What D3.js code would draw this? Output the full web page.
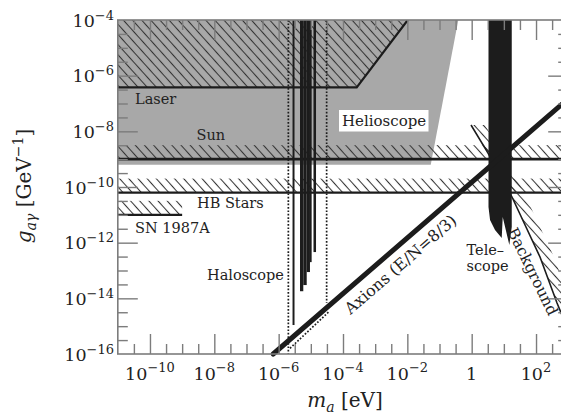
<!DOCTYPE html>
<html><head><meta charset="utf-8">
<script src="https://cdn.jsdelivr.net/npm/d3@7"></script>
<style>body{margin:0;background:#fff}svg{display:block}</style>
</head><body>
<svg id="c" width="561" height="419"></svg>
<script>
// ---------------- data ----------------
const xTickMajor = [1e-10, 1e-8, 1e-6, 1e-4, 1e-2, 1, 1e2];
const xTickLabels = ["−10", "−8", "−6", "−4", "−2", null, "2"];
const yTickMajor = [1e-4, 1e-6, 1e-8, 1e-10, 1e-12, 1e-14, 1e-16];
const yTickLabels = ["−4", "−6", "−8", "−10", "−12", "−14", "−16"];
const xTickMinorExp = [-10.5, -9.5, -9, -8.5, -7.5, -7, -6.5, -5.5, -5, -4.5, -3.5, -3, -2.5, -1.5, -1, -0.5, 0.5, 1, 1.5, 2.5];
const yTickMinorExp = [-4.5, -5, -5.5, -6.5, -7, -7.5, -8.5, -9, -9.5, -10.5, -11, -11.5, -12.5, -13, -13.5, -14.5, -15, -15.5];

// regions: [m_a (eV), g (GeV^-1)]
const helioscopeRegion = [[1e-11, 1e-4], [0.384, 1e-4], [0.0533, 6.3e-10], [1e-11, 6.3e-10]];
const laserRegion = [[1e-11, 1e-4], [0.0103, 1e-4], [2.67e-4, 3.82e-7], [1e-11, 3.82e-7]];
const laserBoundary = [[1e-11, 3.82e-7], [2.67e-4, 3.82e-7], [0.0103, 1e-4]];
const sunLimit = 1e-9;
const hbLimit = 6.3e-11;
const snLimit = [1e-9, 1e-11];          // [m max, g]
// haloscope exclusions: [m0, m1, g lower edge]
const haloscopeBars = [
  [2.70e-6, 3.11e-6, 1.1e-15],
  [4.61e-6, 5.83e-6, 1.8e-14],
  [5.83e-6, 7.45e-6, 3.0e-14],
  [7.45e-6, 9.40e-6, 8.8e-14],
  [9.40e-6, 1.06e-5, 2.0e-13],
  [1.21e-5, 1.45e-5, 4.6e-13]
];
const haloscopeDottedLeft = [[2.0e-6, 1e-4], [2.0e-6, 1e-16]];
const haloscopeDottedRight = [[3.10e-5, 1e-4], [3.10e-5, 6.8e-15]];
const haloscopeDottedDiag = [[2.25e-6, 1.6e-16], [3.55e-5, 3.2e-15]];
const telescopeRegion = [[3.33, 1e-4], [17.6, 1e-4], [17.6, 3.65e-12], [14.8, 8.2e-13], [9.23, 8.3e-12],
  [8.58, 1.47e-12], [5.31, 2.85e-12], [3.72, 6.5e-12], [3.33, 1.91e-11]];
const backgroundLine = [[0.953, 1.69e-8], [3.22, 1.66e-9], [17.9, 4.37e-11], [133, 3.05e-13], [449, 6.8e-15], [643, 2.5e-15]];
const axionCoef = 1.48e-10;              // g = coef * m  (E/N = 8/3)
const axionMass = [6.76e-7, 1e3];

// ---------------- drawing ----------------
const svg = d3.select("#c");
const X0 = 117.8, X1 = 568.2, Y0 = 20, Y1 = 354;
const x = d3.scaleLog().domain([1e-11, 1e3]).range([X0, X1]);
const y = d3.scaleLog().domain([1e-4, 1e-16]).range([Y0, Y1]);
const line = d3.line().x(d => x(d[0])).y(d => y(d[1]));
const INK = "#1c1c1c";

const defs = svg.append("defs");
defs.append("clipPath").attr("id", "plot").append("rect")
  .attr("x", X0).attr("y", Y0).attr("width", X1 - X0).attr("height", Y1 - Y0);
const pat = defs.append("pattern").attr("id", "hatch").attr("patternUnits", "userSpaceOnUse")
  .attr("width", 6.8).attr("height", 6.8).attr("patternTransform", "rotate(-42)");
pat.append("line").attr("x1", 3.4).attr("y1", -1).attr("x2", 3.4).attr("y2", 8)
  .attr("stroke", "#333").attr("stroke-width", 1.05);

const g = svg.append("g").attr("clip-path", "url(#plot)");

// gray helioscope region
g.append("path").attr("d", line(helioscopeRegion) + "Z").attr("fill", "#a8a8a8");
// laser hatch
g.append("path").attr("d", line(laserRegion) + "Z").attr("fill", "url(#hatch)");
g.append("path").attr("d", line(laserBoundary)).attr("fill", "none").attr("stroke", INK).attr("stroke-width", 2.2);

// horizontal hatched bounds
function band(gval, mMax, lw) {
  const yy = y(gval), xe = x(mMax);
  g.append("rect").attr("x", X0).attr("y", yy - 14).attr("width", xe - X0).attr("height", 14).attr("fill", "url(#hatch)");
  g.append("line").attr("x1", X0).attr("x2", xe).attr("y1", yy).attr("y2", yy).attr("stroke", INK).attr("stroke-width", lw);
}
band(sunLimit, 1e3, 2.6);
band(hbLimit, 1e3, 2.2);
band(snLimit[1], snLimit[0], 2.2);

// background bound with hatch on right
const bgPx = backgroundLine.map(d => [x(d[0]), y(d[1])]);
const bgBand = bgPx.concat(bgPx.slice().reverse().map(p => [p[0] + 14, p[1]]));
g.append("path").attr("d", d3.line()(bgBand) + "Z").attr("fill", "url(#hatch)");
g.append("path").attr("d", line(backgroundLine)).attr("fill", "none").attr("stroke", INK).attr("stroke-width", 1.6);

// haloscope
const dot = (pts) => g.append("path").attr("d", line(pts)).attr("fill", "none")
  .attr("stroke", INK).attr("stroke-width", 1.7).attr("stroke-dasharray", "1.7,1.7");
dot(haloscopeDottedLeft); dot(haloscopeDottedRight); dot(haloscopeDottedDiag);
g.selectAll("rect.halo").data(haloscopeBars).enter().append("rect").attr("class", "halo")
  .attr("x", d => x(d[0])).attr("width", d => x(d[1]) - x(d[0]))
  .attr("y", y(1e-4)).attr("height", d => y(d[2]) - y(1e-4)).attr("fill", INK);

// telescope
g.append("path").attr("d", line(telescopeRegion) + "Z").attr("fill", INK);

// axion line
svg.append("path").attr("d", line(axionMass.map(m => [m, axionCoef * m])))
  .attr("stroke", INK).attr("stroke-width", 5).attr("stroke-linecap", "round").attr("fill", "none");

// ---------------- axes ----------------
const TC = "#7c7c7c";
function styleAxis(sel) {
  sel.select("path.domain").remove();
  sel.selectAll(".tick line").attr("stroke", TC).attr("stroke-width", 1.4);
  sel.selectAll(".tick text").remove();
}
const xMinor = xTickMinorExp.map(e => Math.pow(10, e));
const yMinor = yTickMinorExp.map(e => Math.pow(10, e));
[[d3.axisBottom, Y1], [d3.axisTop, Y0]].forEach(([ax, pos]) => {
  svg.append("g").attr("transform", `translate(0,${pos})`).call(ax(x).tickValues(xTickMajor).tickSize(-20).tickSizeOuter(0)).call(styleAxis);
  svg.append("g").attr("transform", `translate(0,${pos})`).call(ax(x).tickValues(xMinor).tickSize(-10).tickSizeOuter(0)).call(styleAxis);
});
[[d3.axisLeft, X0], [d3.axisRight, X1]].forEach(([ax, pos]) => {
  svg.append("g").attr("transform", `translate(${pos},0)`).call(ax(y).tickValues(yTickMajor.slice(1, -1)).tickSize(-20).tickSizeOuter(0)).call(styleAxis);
  svg.append("g").attr("transform", `translate(${pos},0)`).call(ax(y).tickValues(yMinor).tickSize(-10).tickSizeOuter(0)).call(styleAxis);
});
svg.append("rect").attr("x", X0).attr("y", Y0).attr("width", X1 - X0).attr("height", Y1 - Y0)
  .attr("fill", "none").attr("stroke", TC).attr("stroke-width", 1.6);

// tick labels
const TF = "DejaVu Serif";
xTickMajor.forEach((v, i) => {
  const t = svg.append("text").attr("x", x(v)).attr("y", 380).attr("text-anchor", "middle")
    .attr("font-family", TF).attr("font-size", 17.5).attr("fill", "#222");
  if (xTickLabels[i] === null) { t.text("1"); return; }
  t.append("tspan").text("10");
  t.append("tspan").attr("dy", -8).attr("font-size", 13).text(xTickLabels[i]);
});
yTickMajor.forEach((v, i) => {
  const t = svg.append("text").attr("x", 114).attr("y", y(v) + 6.5).attr("text-anchor", "end")
    .attr("font-family", TF).attr("font-size", 17.5).attr("fill", "#222");
  t.append("tspan").text("10");
  t.append("tspan").attr("dy", -7).attr("font-size", 13).text(yTickLabels[i]);
});

// axis titles
const xt = svg.append("text").attr("x", 345).attr("y", 407).attr("text-anchor", "middle")
  .attr("font-family", TF).attr("font-size", 20).attr("fill", "#222");
xt.append("tspan").attr("font-style", "italic").text("m");
xt.append("tspan").attr("font-style", "italic").attr("font-size", 14).attr("dy", 5).text("a");
xt.append("tspan").attr("dy", -5).text(" [eV]");

const yt = svg.append("text").attr("transform", "translate(31,186) rotate(-90)").attr("text-anchor", "middle")
  .attr("font-family", TF).attr("font-size", 20).attr("fill", "#222");
yt.append("tspan").attr("font-style", "italic").text("g");
yt.append("tspan").attr("font-style", "italic").attr("font-size", 14).attr("dy", 5).text("aγ");
yt.append("tspan").attr("dy", -5).text(" [GeV");
yt.append("tspan").attr("font-size", 14).attr("dy", -8).text("−1");
yt.append("tspan").attr("dy", 8).text("]");

// region labels
const LF = 14.5;
function lab(txt, px, py) {
  return svg.append("text").attr("x", px).attr("y", py).attr("font-family", TF)
    .attr("font-size", LF).attr("fill", "#222").text(txt);
}
lab("Laser", 135, 104);
lab("Sun", 196.5, 140);
svg.append("rect").attr("x", 339).attr("y", 110).attr("width", 89.5).attr("height", 21.5).attr("fill", "#fff");
lab("Helioscope", 342, 125.5).attr("font-size", 15);
lab("HB Stars", 197, 208);
lab("SN 1987A", 135, 232.5);
lab("Haloscope", 207, 280);
lab("Tele–", 466.5, 255);
lab("scope", 466.5, 270.5);
lab("Axions (E/N=8/3)", 0, 0).attr("x", null).attr("y", null)
  .attr("text-anchor", "middle").attr("dominant-baseline", "central").attr("font-size", 16)
  .attr("transform", "translate(400.5,264.5) rotate(-40.9)");
lab("Background", 0, 0).attr("x", null).attr("y", null).attr("font-size", 15.5)
  .attr("transform", "translate(507,231) rotate(64)");
</script>
</body></html>
